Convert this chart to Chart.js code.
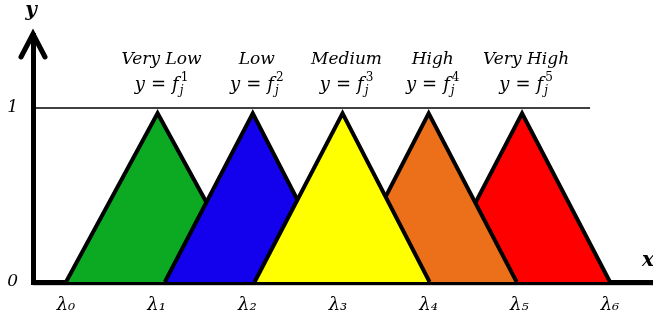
<!DOCTYPE html>
<html lang="en">
<head>
<meta charset="UTF-8">
<title>Membership functions</title>
<script src="https://cdn.jsdelivr.net/npm/chart.js"></script>
<style>
  html, body { margin: 0; padding: 0; background: #fff; }
  #wrap { width: 653px; height: 325px; position: relative; }
</style>
</head>
<body>
<div id="wrap"><canvas id="chart"></canvas></div>
<script>
// values, x in lambda units
const names = ['Very Low', 'Low', 'Medium', 'High', 'Very High'];
const superscripts = ['1', '2', '3', '4', '5'];
const colors = ['#0ca922', '#1300ec', '#ffff00', '#ec6f19', '#ff0000'];
const starts = [0, 1.09, 2.08, 3.04, 4.06];
const peaks = [1.01, 2.06, 3.05, 4.0, 5.03];
const ends = [2.03, 3.02, 4.01, 4.97, 6.0];
const peakHeight = 0.97;
const layer = [2, 1, 0, 1, 2]; // lower = drawn on top
const xTickLabels = ['λ₀', 'λ₁', 'λ₂', 'λ₃', 'λ₄', 'λ₅', 'λ₆'];
const yTickLabels = ['0', '1'];
const refLevel = 1;
const refSpan = [-0.34, 5.78];

const serif = '"DejaVu Serif", "Liberation Serif", serif';

const datasets = names.map((n, i) => ({
  label: n,
  data: [{x: starts[i], y: 0}, {x: peaks[i], y: peakHeight}, {x: ends[i], y: 0}],
  showLine: true,
  fill: 'origin',
  backgroundColor: colors[i],
  borderColor: '#000',
  borderWidth: 4,
  borderJoinStyle: 'miter',
  pointRadius: 0,
  order: layer[i]
}));
datasets.push({
  label: 'level 1',
  data: refSpan.map(v => ({x: v, y: refLevel})),
  showLine: true,
  fill: false,
  borderColor: '#000',
  borderWidth: 1.5,
  pointRadius: 0,
  order: 9
});

// draws y = f_j^k centred at cx
function formula(ctx, cx, base, k) {
  const big = 'italic 18px ' + serif;
  const eq = '18px ' + serif;
  const small = '12px ' + serif;
  const smallIt = 'italic 12px ' + serif;
  ctx.font = big; const wy = ctx.measureText('y').width; const wf = ctx.measureText('f').width;
  ctx.font = eq; const we = ctx.measureText('=').width;
  ctx.font = small; const ws = ctx.measureText(k).width;
  const gap = 6;
  const total = wy + gap + we + gap + wf + 2 + ws;
  let x = cx - total / 2;
  ctx.textAlign = 'left';
  ctx.textBaseline = 'alphabetic';
  ctx.font = big; ctx.fillText('y', x, base); x += wy + gap;
  ctx.font = eq; ctx.fillText('=', x, base); x += we + gap;
  ctx.font = big; ctx.fillText('f', x, base); x += wf + 2;
  ctx.font = small; ctx.fillText(k, x, base - 9);
  ctx.font = smallIt; ctx.fillText('j', x - 1, base + 4);
}

const extras = {
  id: 'extras',
  afterDraw(chart) {
    const ctx = chart.ctx;
    const xs = chart.scales.x, ys = chart.scales.y;
    const a = chart.chartArea;
    ctx.save();
    // faint shadow under x axis
    ctx.strokeStyle = '#cfcfcf';
    ctx.lineWidth = 1;
    ctx.beginPath();
    ctx.moveTo(a.left, a.bottom + 3.5);
    ctx.lineTo(a.right, a.bottom + 3.5);
    ctx.stroke();
    // arrow head on y axis
    ctx.strokeStyle = '#000';
    ctx.lineWidth = 5;
    ctx.lineJoin = 'miter';
    ctx.lineCap = 'round';
    ctx.beginPath();
    ctx.moveTo(a.left - 12, a.top + 22);
    ctx.lineTo(a.left, a.top - 1);
    ctx.lineTo(a.left + 12, a.top + 22);
    ctx.stroke();
    // axis names
    ctx.fillStyle = '#000';
    ctx.font = 'bold italic 20px ' + serif;
    ctx.textAlign = 'center';
    ctx.textBaseline = 'alphabetic';
    ctx.fillText('y', a.left - 2, 16);
    ctx.textAlign = 'left';
    ctx.fillText('x', 642, a.bottom - 16);
    // set names and formulas
    const top = ys.getPixelForValue(refLevel);
    names.forEach((n, i) => {
      const cx = xs.getPixelForValue(peaks[i]) + 4;
      ctx.font = 'italic 17px ' + serif;
      ctx.textAlign = 'center';
      ctx.fillText(n, cx, top - 44);
      formula(ctx, cx, top - 18, superscripts[i]);
    });
    ctx.restore();
  }
};

new Chart(document.getElementById('chart'), {
  type: 'scatter',
  data: { datasets: datasets },
  options: {
    responsive: true,
    maintainAspectRatio: false,
    animation: false,
    layout: { padding: { top: 35, right: 0, bottom: 0, left: 0 } },
    plugins: { legend: { display: false }, tooltip: { enabled: false } },
    scales: {
      x: {
        type: 'linear',
        min: -0.364,
        max: 6.474,
        z: 1,
        grid: { display: false },
        border: { display: true, color: '#000', width: 5 },
        afterBuildTicks: axis => { axis.ticks = xTickLabels.map((_, i) => ({ value: i })); },
        afterFit: axis => { axis.height = 43; },
        ticks: {
          autoSkip: false,
          maxRotation: 0,
          padding: 5,
          color: '#000',
          font: { family: serif, style: 'italic', size: 18 },
          callback: v => xTickLabels[v]
        }
      },
      y: {
        min: 0,
        max: 1.42,
        z: 1,
        grid: { display: false },
        border: { display: true, color: '#000', width: 5 },
        afterBuildTicks: axis => { axis.ticks = yTickLabels.map(t => ({ value: Number(t) })); },
        afterFit: axis => { axis.width = 33; },
        ticks: {
          padding: 7,
          color: '#000',
          font: { family: serif, style: 'italic', size: 17 },
          callback: v => yTickLabels[v]
        }
      }
    }
  },
  plugins: [extras]
});
</script>
</body>
</html>
